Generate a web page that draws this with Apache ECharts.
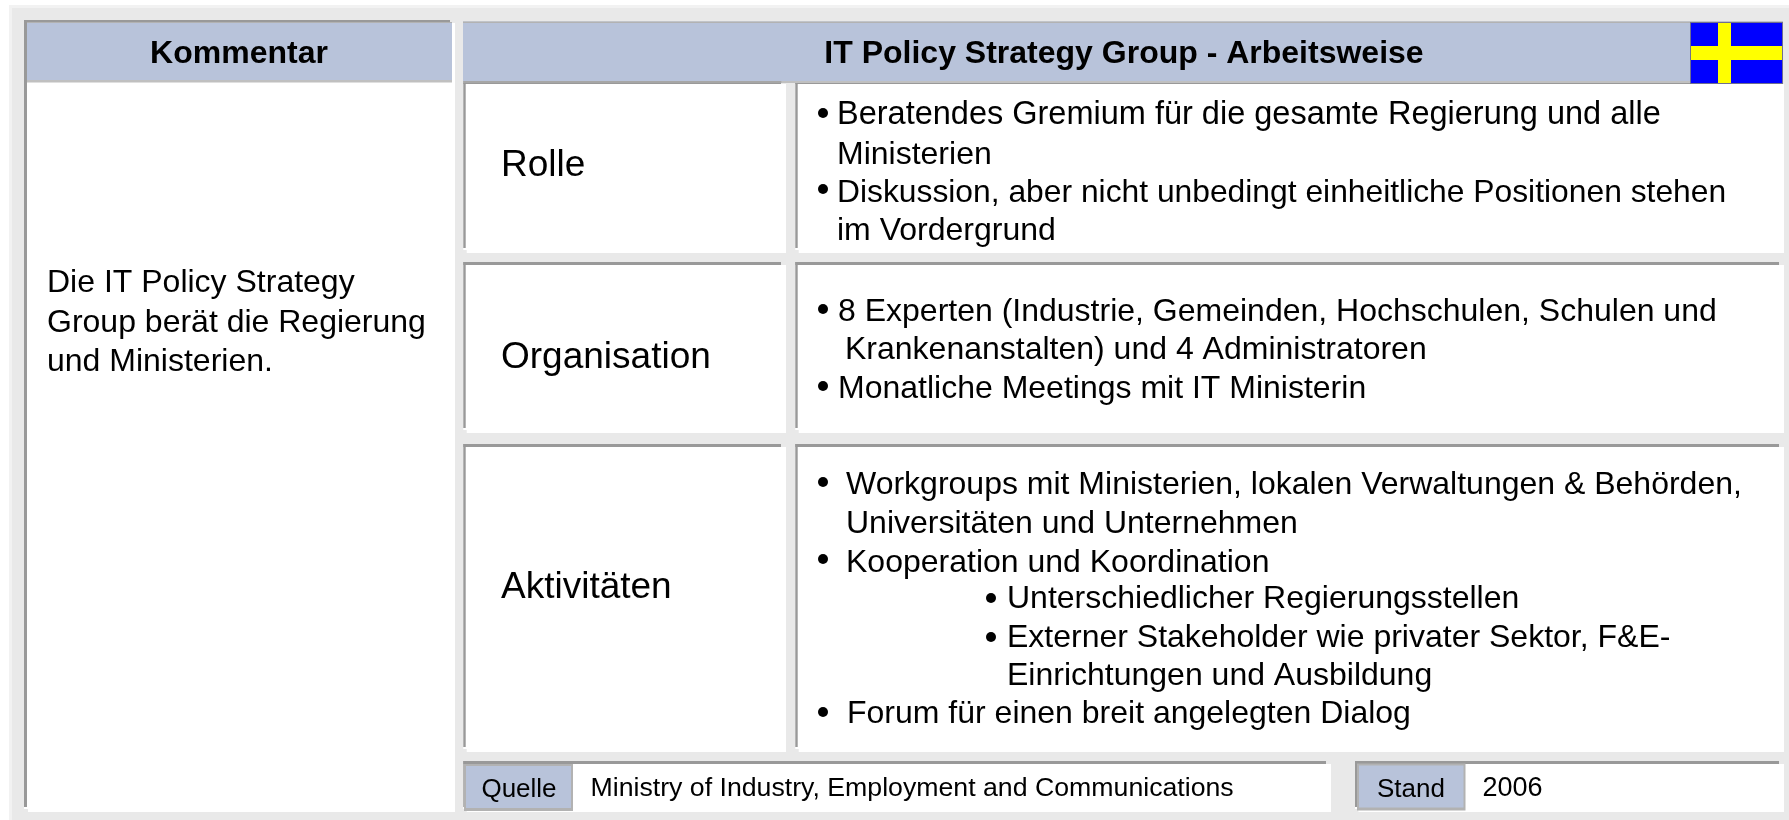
<!DOCTYPE html>
<html><head><meta charset="utf-8"><style>html,body{margin:0;padding:0;background:#fff}#c{width:1789px;height:820px}</style>
<script src="https://cdn.jsdelivr.net/npm/echarts@6/dist/echarts.min.js"></script></head>
<body><div id="c"></div>
<script>
// ---- content ----
var headerLeft = 'Kommentar';
var headerMain = 'IT Policy Strategy Group - Arbeitsweise';
var commentLines = ['Die IT Policy Strategy', 'Group berät die Regierung', 'und Ministerien.'];
var rowLabels = ['Rolle', 'Organisation', 'Aktivitäten'];
var rolleLines = ['Beratendes Gremium für die gesamte Regierung und alle', 'Ministerien', 'Diskussion, aber nicht unbedingt einheitliche Positionen stehen', 'im Vordergrund'];
var orgLines = ['8 Experten (Industrie, Gemeinden, Hochschulen, Schulen und', 'Krankenanstalten) und 4 Administratoren', 'Monatliche Meetings mit IT Ministerin'];
var aktLines = ['Workgroups mit Ministerien, lokalen Verwaltungen & Behörden,', 'Universitäten und Unternehmen', 'Kooperation und Koordination', 'Unterschiedlicher Regierungsstellen', 'Externer Stakeholder wie privater Sektor, F&E-', 'Einrichtungen und Ausbildung', 'Forum für einen breit angelegten Dialog'];
var sourceLabel = 'Quelle', sourceText = 'Ministry of Industry, Employment and Communications';
var dateLabel = 'Stand', dateText = '2006';

// ---- layout ----
var FONT = '"Liberation Sans", Arial, sans-serif';
var BG = '#e9e9e9', HEAD = '#b8c3da', LINE = '#999999', EDGE = '#b2b2b2', SOFT = '#c0c0c0';
var els = [];
function rect(x, y, w, h, fill) { els.push({type:'rect', silent:true, shape:{x:x,y:y,width:w,height:h}, style:{fill:fill}}); }
function text(s, x, base, size, opt) { opt = opt || {};
  els.push({type:'text', silent:true, x:x, y:base - 0.267 * size, style:{text:s, fill:'#000', font:(opt.bold?'bold ':'')+size+'px '+FONT, textAlign:opt.align||'left', textVerticalAlign:'middle', verticalAlign:'middle'}}); }
function bullet(x, y) { els.push({type:'circle', silent:true, shape:{cx:x,cy:y,r:5}, style:{fill:'#000'}}); }
function panel(x, y, r, b, lw) { // white box whose grey top and left edges stop short of the corners
  lw = lw || 2.4;
  rect(x, y, r - x, b - y - 3, '#fff');
  rect(x + lw + 1, b - 3, r - x - lw - 1, 3, '#fff');
  rect(r - 5, y, 5, 3, BG);
  rect(x, y, r - x - 5, 3, LINE);
  rect(x, y, lw, b - y - 5, LINE);
}
rect(9, 5, 1780, 815, '#f2f2f2');
rect(12, 8, 1777, 812, BG);
// left column
panel(24, 20, 455, 812, 3);
rect(27, 22, 425, 58, HEAD); rect(27, 22, 425, 1, EDGE); rect(27, 80, 425, 2.5, SOFT);
// rows
var rowsY = [[81,253],[262,433],[444,752]];
rowsY.forEach(function(r){ panel(463.3, r[0], 786, r[1]); panel(795.3, r[0], 1784, r[1]); });
// main header
rect(463, 21.5, 1320, 60, HEAD); rect(463, 21.5, 1320, 1.5, EDGE); rect(463, 81, 1320, 2, SOFT);
rect(463.3, 81, 318, 2, '#a6a6a6');
// flag
rect(1690, 22, 93, 62, '#6f6f8f'); rect(1691, 23, 91, 60, '#0000ff'); rect(1718, 23, 13, 60, '#ffff00'); rect(1691, 46, 91, 14, '#ffff00');
// footer
panel(463.3, 761, 1331, 812); panel(1355, 761, 1784, 812);
rect(464, 764, 109, 47, EDGE); rect(466, 766, 105, 42, HEAD);
rect(1357, 763.5, 108.5, 47, EDGE); rect(1359, 765.5, 104.5, 42, HEAD);
// header text
text(headerLeft, 239, 63, 32, {bold:true, align:'center'});
text(headerMain, 1124, 63, 32, {bold:true, align:'center'});
// comment
var commentBase = [292, 332, 371];
commentLines.forEach(function(s,i){ text(s, 47, commentBase[i], 32); });
// row labels
var labelBase = [176, 368, 598];
rowLabels.forEach(function(s,i){ text(s, 501, labelBase[i], 37); });
// rolle
var rollX = [837,837,837,837], rollBase = [124,164,202,240], rollBullet = [113,0,189,0], rollSize = [32.5,32,31.8,32];
rolleLines.forEach(function(s,i){ text(s, rollX[i], rollBase[i], rollSize[i]); if(rollBullet[i]) bullet(823, rollBullet[i]); });
// organisation
var orgX = [838,845,838], orgBase = [321,359,398], orgBullet = [309,0,386];
orgLines.forEach(function(s,i){ text(s, orgX[i], orgBase[i], 32); if(orgBullet[i]) bullet(823, orgBullet[i]); });
// aktivitaeten
var aktX = [846,846,846,1007,1007,1007,847], aktBase = [494,533,572,608,647,685,723];
var aktBulletX = [823,0,823,991,991,0,823], aktBulletY = [482,0,559,598,637,0,712];
aktLines.forEach(function(s,i){ text(s, aktX[i], aktBase[i], 32); if(aktBulletX[i]) bullet(aktBulletX[i], aktBulletY[i]); });
// footer text
text(sourceLabel, 519, 797, 26, {align:'center'});
text(sourceText, 590.5, 796, 26.7);
text(dateLabel, 1411, 797, 26, {align:'center'});
text(dateText, 1482.5, 796, 27);

var chart = echarts.init(document.getElementById('c'), null, {renderer:'canvas'});
chart.setOption({animation:false, backgroundColor:'#fff', graphic:{elements:els}});
</script></body></html>
